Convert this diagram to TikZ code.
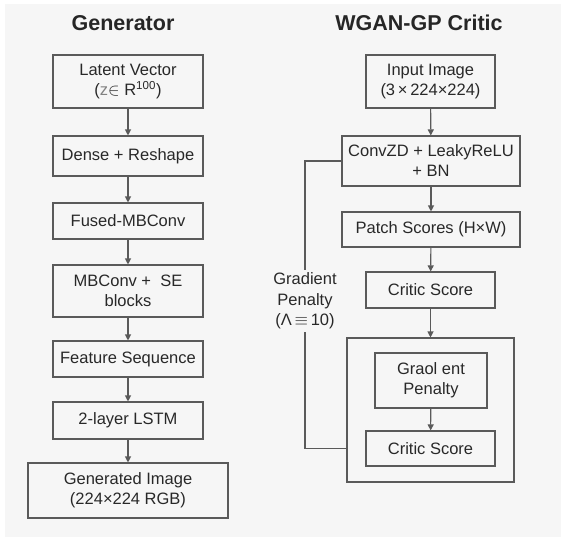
\documentclass[tikz,border=0pt]{standalone}
\usepackage{fontspec}
\setmainfont{Liberation Sans}
\usepackage{xcolor}
\usepackage{tikz}
\usetikzlibrary{arrows.meta, positioning, calc}
\definecolor{bggrey}{RGB}{246, 246, 246}
\definecolor{linegrey}{RGB}{90, 90, 90}
\definecolor{textgrey}{RGB}{40, 40, 40}
\definecolor{zgrey}{RGB}{130, 130, 130}
\tikzstyle{layer} = [rectangle, draw=linegrey, fill=bggrey, text=textgrey, align=center, line width=1.1pt, inner sep=2pt, font=\fontsize{16.5}{20}\selectfont]
\tikzstyle{heading} = [text=black!85, font=\fontsize{21.5}{24}\selectfont\bfseries]
\tikzstyle{arrow} = [-{Triangle[length=6pt, width=6pt]}, draw=linegrey, line width=1.1pt]
\tikzstyle{link} = [draw=linegrey, line width=1.1pt]

\begin{document}
\begin{tikzpicture}[x=1pt, y=-1pt]
    \useasboundingbox (0,0) rectangle (566,541);
    \fill[white] (0,0) rectangle (566,541);
    \fill[bggrey] (5,4) rectangle (561,537);

    % Titles
    \node[heading] (gentitle) at (123, 23) {Generator};
    \node[heading] (crititle) at (419, 23) {WGAN-GP Critic};

    % Generator
    \node[layer, minimum width=150, minimum height=53] (latent) at (128, 81.5) {Latent Vector\\({\color{zgrey}z}$\in$ R\textsuperscript{100})};
    \node[layer, minimum width=150, minimum height=40] (dense) at (128, 156) {Dense + Reshape};
    \node[layer, minimum width=150, minimum height=36] (fused) at (128, 221) {Fused-MBConv};
    \node[layer, minimum width=150, minimum height=52] (mbconv) at (128, 291) {MBConv + \ SE\\blocks};
    \node[layer, minimum width=150, minimum height=36] (featseq) at (128, 359) {Feature Sequence};
    \node[layer, minimum width=150, minimum height=37] (lstm) at (128, 420.5) {2-layer LSTM};
    \node[layer, minimum width=200, minimum height=55] (genimg) at (128, 490.5) {Generated Image\\(224×224 RGB)};

    % Critic
    \node[layer, minimum width=129, minimum height=53] (input) at (430.5, 81.5) {Input Image\\(3\,×\,224×224)};
    \node[layer, minimum width=178, minimum height=50] (conv) at (431, 161) {ConvZD + LeakyReLU\\+ BN};
    \node[layer, minimum width=178, minimum height=35] (patch) at (431, 229.5) {Patch Scores (H×W)};
    \node[layer, minimum width=129, minimum height=36] (critic) at (430.5, 290) {Critic Score};
    \node[layer, minimum width=167, minimum height=144] (outer) at (430.5, 410) {};
    \node[layer, minimum width=112, minimum height=55] (gpbox) at (431, 380.5) {Graol ent\\Penalty};
    \node[layer, minimum width=129, minimum height=35] (critic2) at (430.5, 448.5) {Critic Score};

    % Arrows
    \draw[arrow] (latent) -- (dense);
    \draw[arrow] (dense) -- (fused);
    \draw[arrow] (fused) -- (mbconv);
    \draw[arrow] (mbconv) -- (featseq);
    \draw[arrow] (featseq) -- (lstm);
    \draw[arrow] (lstm) -- (genimg);
    \draw[arrow] (input) -- (conv);
    \draw[arrow] (conv) -- (patch);
    \draw[arrow] (patch) -- (critic);
    \draw[arrow] (critic) -- (outer);
    \draw[arrow] (gpbox) -- (critic2);

    % Gradient penalty loop
    \node[text=textgrey, align=center, inner sep=3pt, font=\fontsize{16.5}{20.5}\selectfont] (gplabel) at (305, 301) {Gradient\\Penalty\\(Λ\,$\equiv$\,10)};
    \draw[link] (conv.west) -| (gplabel.north);
    \draw[link] (gplabel.south) |- (critic2 -| outer.west);
\end{tikzpicture}
\end{document}
